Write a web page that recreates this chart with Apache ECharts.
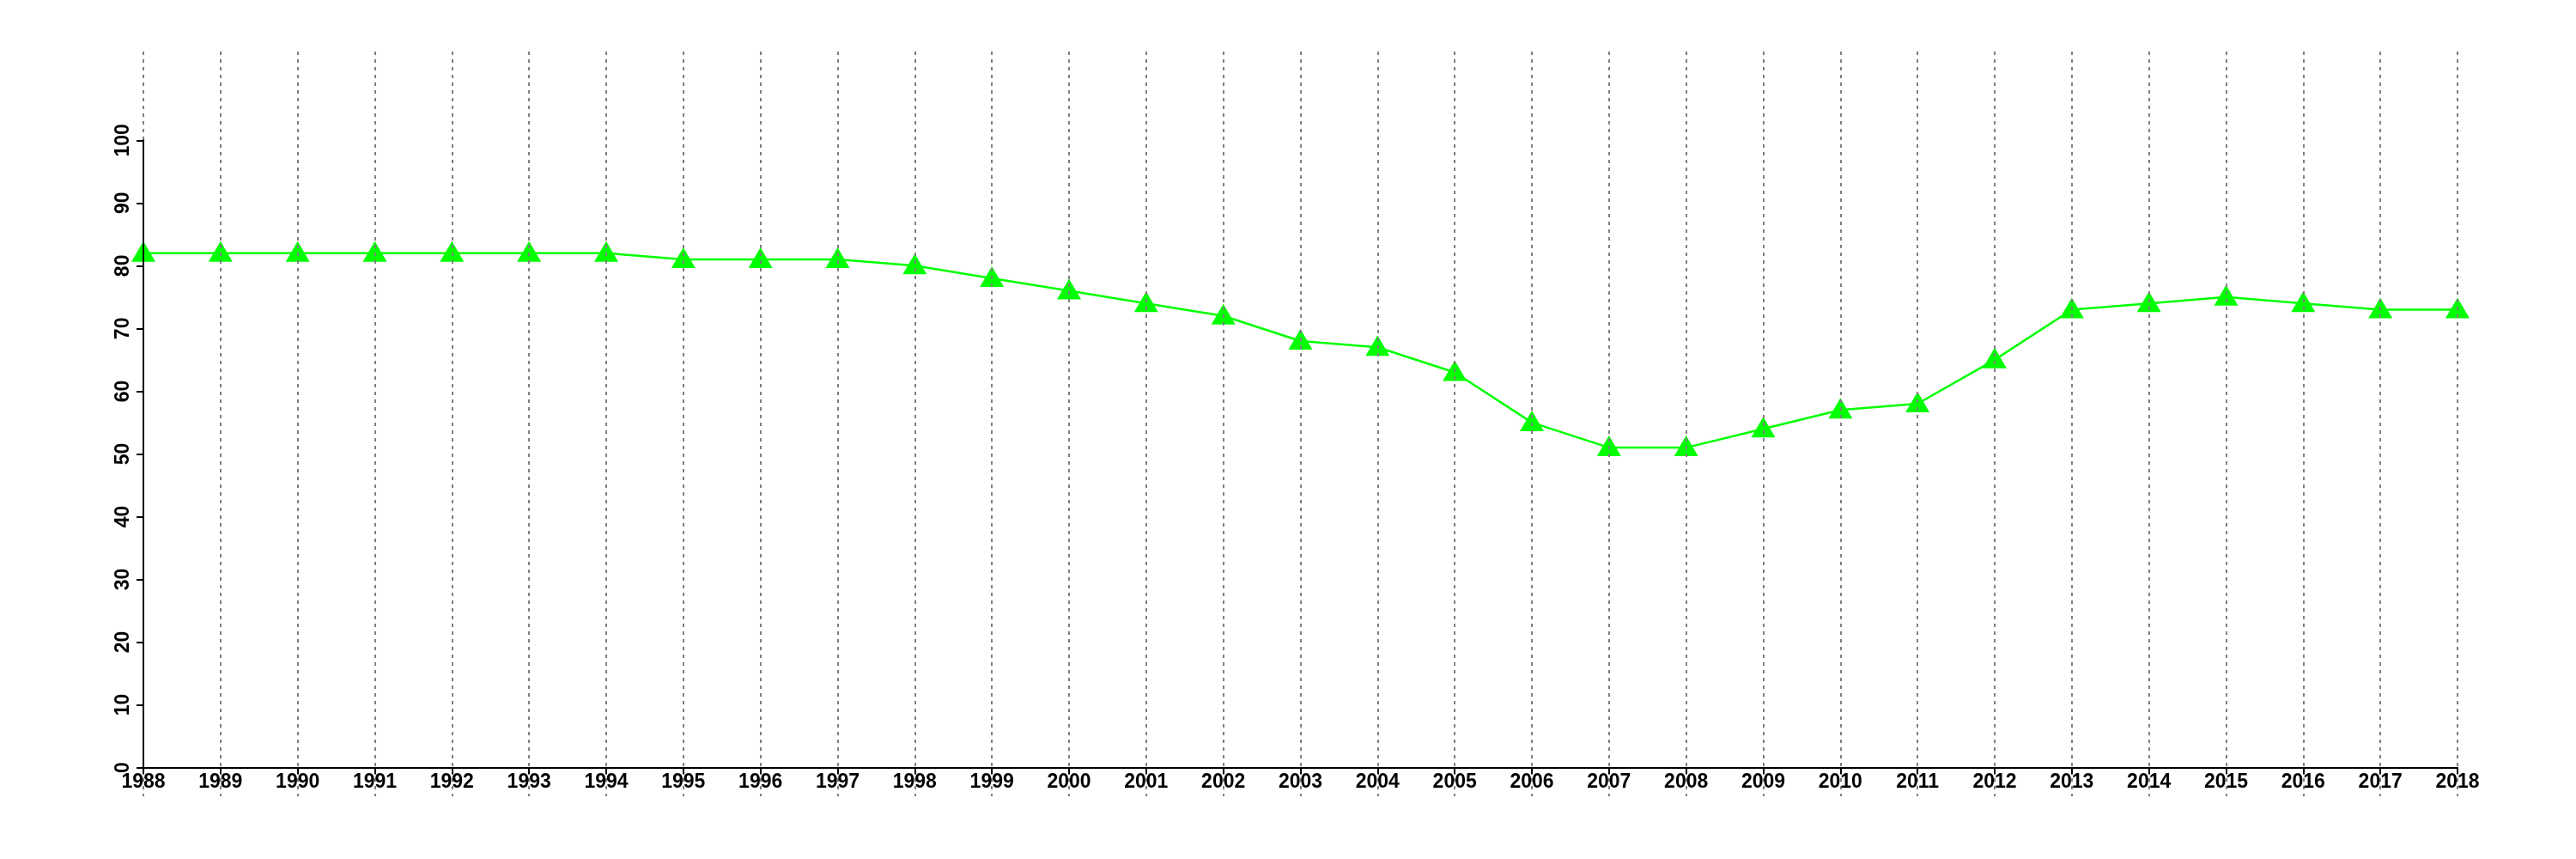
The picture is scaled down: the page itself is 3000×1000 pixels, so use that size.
<!DOCTYPE html>
<html>
<head>
<meta charset="utf-8">
<script src="https://cdn.jsdelivr.net/npm/echarts@6/dist/echarts.min.js"></script>
<style>
html,body{margin:0;padding:0;background:#ffffff;}
#chart{width:3000px;height:1000px;}
</style>
</head>
<body>
<div id="chart"></div>
<script>
// ---- data ----
const years = ['1988','1989','1990','1991','1992','1993','1994','1995','1996','1997',
  '1998','1999','2000','2001','2002','2003','2004','2005','2006','2007',
  '2008','2009','2010','2011','2012','2013','2014','2015','2016','2017','2018'];
const values = [82,82,82,82,82,82,82,81,81,81,
  80,78,76,74,72,68,67,63,55,51,
  51,54,57,58,65,73,74,75,74,73,73];
const yMin = 0;
const yMax = 100;
const yStep = 10;

// ---- chart ----
const FONT = 'Liberation Sans';
const chart = echarts.init(document.getElementById('chart'), null, {renderer: 'canvas'});
chart.setOption({
  backgroundColor: '#ffffff',
  animation: false,
  grid: [
    {left: 167, right: 138, top: 163.3, bottom: 106.5, containLabel: false},
    {left: 167, right: 138, top: 60, bottom: 73, containLabel: false}
  ],
  xAxis: [
    {
      gridIndex: 0,
      type: 'category',
      data: years,
      boundaryGap: false,
      z: 20,
      axisLine: {show: true, onZero: false, lineStyle: {color: '#000000', width: 2}},
      axisTick: {show: true, interval: 0, length: 8, lineStyle: {color: '#000000', width: 2}},
      axisLabel: {show: true, interval: 0, margin: 6, color: '#000000',
        fontSize: 23, fontWeight: 'bold', fontFamily: FONT},
      splitLine: {show: false}
    },
    {
      gridIndex: 1,
      type: 'category',
      data: years,
      boundaryGap: false,
      z: 10,
      axisLine: {show: false},
      axisTick: {show: false},
      axisLabel: {show: false},
      splitLine: {show: true, interval: 0,
        lineStyle: {color: '#7f7f7f', width: 2, type: [4, 5]}}
    }
  ],
  yAxis: [
    {
      gridIndex: 0,
      type: 'value',
      min: yMin,
      max: yMax,
      interval: yStep,
      z: 20,
      axisLine: {show: true, lineStyle: {color: '#000000', width: 2}},
      axisTick: {show: true, length: 8, lineStyle: {color: '#000000', width: 2}},
      axisLabel: {show: true, rotate: 90, margin: 12, color: '#000000',
        fontSize: 23, fontWeight: 'bold', fontFamily: FONT},
      splitLine: {show: false}
    },
    {
      gridIndex: 1,
      type: 'value',
      min: 0,
      max: 1,
      show: false,
      splitLine: {show: false}
    }
  ],
  series: [
    {
      type: 'line',
      xAxisIndex: 0,
      yAxisIndex: 0,
      data: values,
      symbol: 'triangle',
      symbolSize: [28, 24],
      symbolOffset: [0, -2],
      showAllSymbol: true,
      lineStyle: {color: '#00ff00', width: 2.5},
      itemStyle: {color: '#00ff00', borderWidth: 0}
    }
  ]
});
</script>
</body>
</html>
